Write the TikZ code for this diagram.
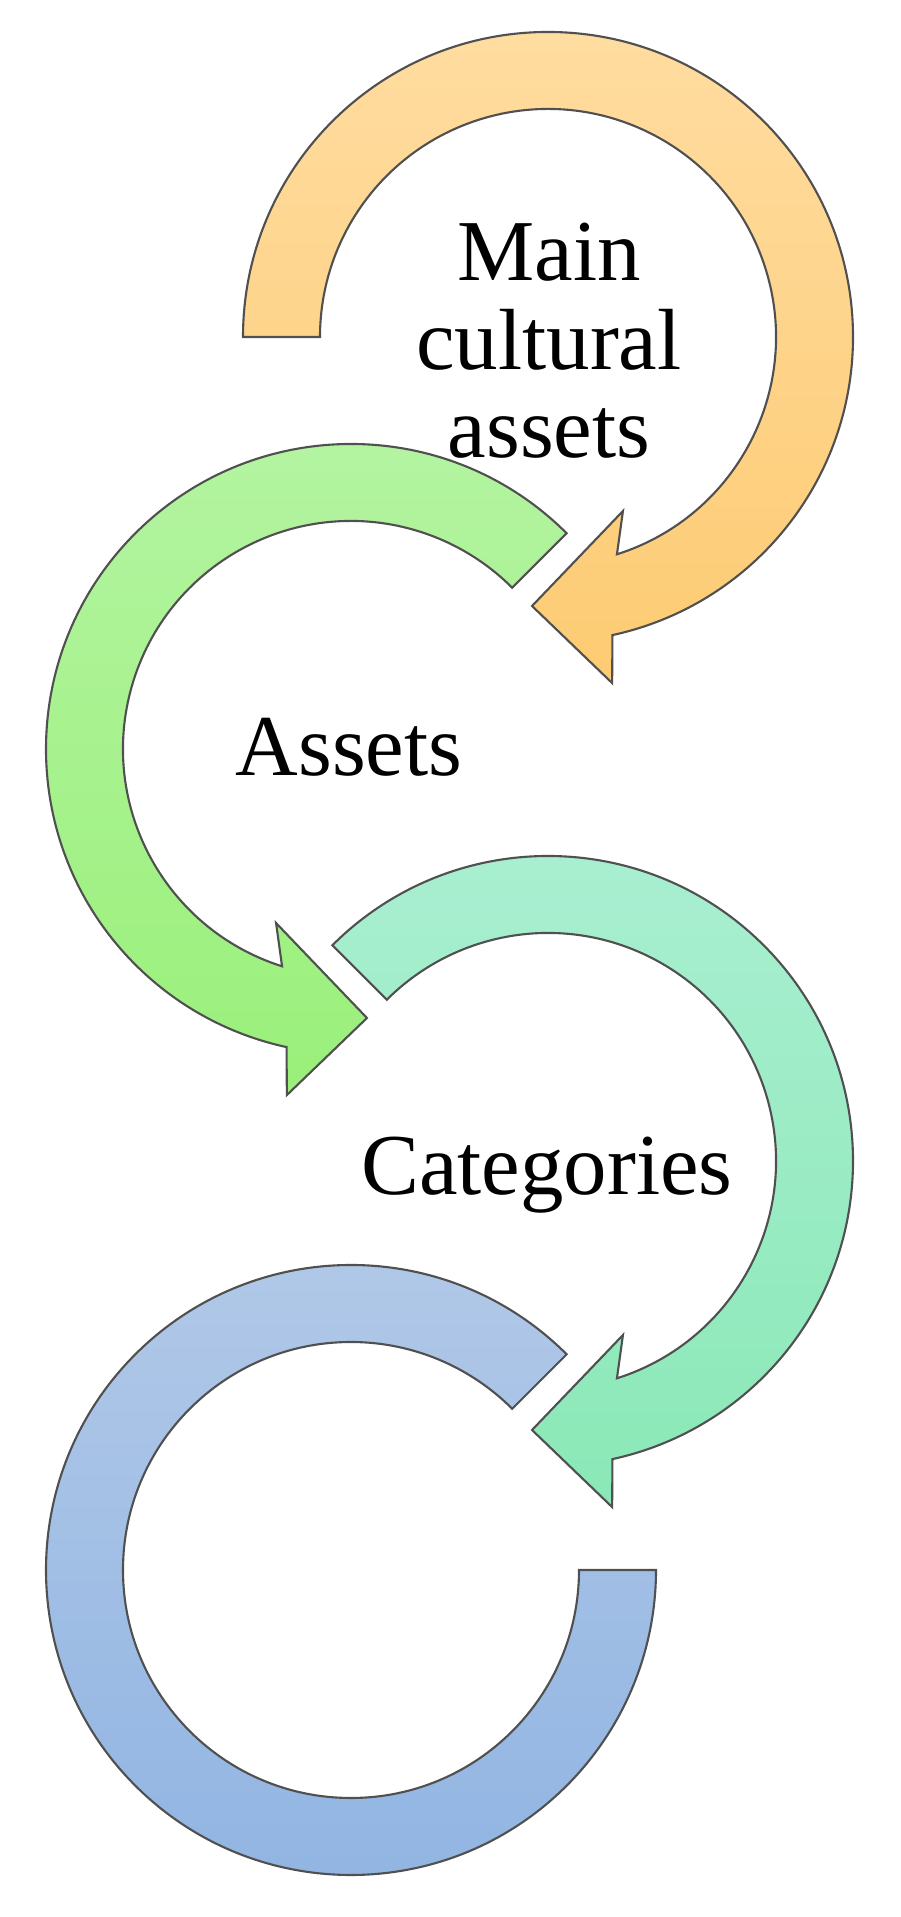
\documentclass[tikz,border=0pt]{standalone}
\usepackage{fontspec}
\setmainfont{Liberation Serif}
\definecolor{ringline}{RGB}{80,80,80}
\definecolor{orangetop}{RGB}{255,220,160}
\definecolor{orangebot}{RGB}{253,203,114}
\definecolor{greentop}{RGB}{180,244,162}
\definecolor{greenbot}{RGB}{154,240,122}
\definecolor{tealtop}{RGB}{170,239,210}
\definecolor{tealbot}{RGB}{138,232,182}
\definecolor{bluetop}{RGB}{178,201,232}
\definecolor{bluebot}{RGB}{144,180,226}
\usepackage{tikz}

\begin{document}
\begin{tikzpicture}[
    ring/.style={draw=ringline,line width=0.6pt,line join=miter},
    label/.style={font=\fontsize{24.7}{25.2}\selectfont,align=center,inner sep=0pt}]
  \useasboundingbox (0,0) rectangle (9,19.17);
  % orange ring, clockwise
  \draw[ring,top color=orangetop,bottom color=orangebot,shift={(5.48,15.80)}]
    (180:3.05) arc[start angle=180,end angle=-77.8,radius=3.05]
    -- (-79.5:3.52) -- (-93.4:2.695) -- (-66.7:1.895) -- (-72.4:2.28)
    arc[start angle=-72.4,end angle=180,radius=2.28] -- cycle;
  % green ring, counterclockwise
  \draw[ring,top color=greentop,bottom color=greenbot,shift={(3.51,11.68)}]
    (45:3.05) arc[start angle=45,end angle=257.8,radius=3.05]
    -- (259.5:3.52) -- (273.4:2.695) -- (246.7:1.895) -- (252.4:2.28)
    arc[start angle=252.4,end angle=45,radius=2.28] -- cycle;
  % teal ring, clockwise
  \draw[ring,top color=tealtop,bottom color=tealbot,shift={(5.48,7.56)}]
    (135:3.05) arc[start angle=135,end angle=-77.8,radius=3.05]
    -- (-79.5:3.52) -- (-93.4:2.695) -- (-66.7:1.895) -- (-72.4:2.28)
    arc[start angle=-72.4,end angle=135,radius=2.28] -- cycle;
  % blue ring, no head
  \draw[ring,top color=bluetop,bottom color=bluebot,shift={(3.51,3.47)}]
    (45:3.05) arc[start angle=45,end angle=360,radius=3.05]
    -- (0:2.28) arc[start angle=360,end angle=45,radius=2.28] -- cycle;
  % labels
  \node[label] (main) at (5.49,15.76) {Main\\cultural\\assets};
  \node[label,anchor=base] (assets) at (3.49,11.41) {Assets};
  \node[label,anchor=base] (categories) at (5.47,7.22) {Categories};
\end{tikzpicture}
\end{document}
